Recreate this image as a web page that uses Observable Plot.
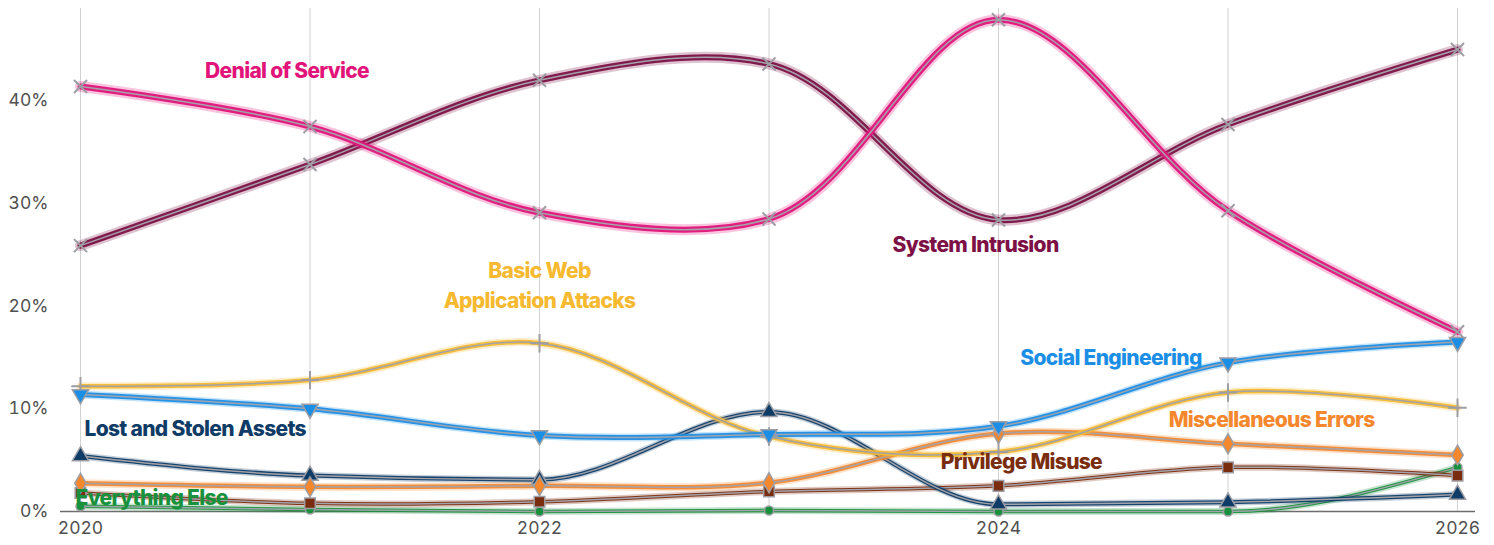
<!DOCTYPE html>
<html>
<head>
<meta charset="utf-8">
<script src="https://cdn.jsdelivr.net/npm/d3@7"></script>
<script src="https://cdn.jsdelivr.net/npm/@observablehq/plot@0.6"></script>
<style>
  html, body { margin: 0; padding: 0; background: #fff; }
  #chart { width: 1494px; height: 545px; }
  .lbl text { letter-spacing: -0.7px; }
</style>
</head>
<body>
<div id="chart"></div>
<script>
const years = [2020, 2021, 2022, 2023, 2024, 2025, 2026];
const xTicks = [2020, 2022, 2024, 2026];
const yTicks = [0, 10, 20, 30, 40];

const systemIntrusion   = [25.9, 33.8, 42.0, 43.6, 28.4, 37.7, 45.0];
const denialOfService   = [41.4, 37.5, 29.1, 28.5, 47.9, 29.3, 17.5];
const basicWebApp       = [12.2, 12.8, 16.4, 7.3, 5.8, 11.6, 10.1];
const socialEngineering = [11.4, 10.0, 7.4, 7.5, 8.3, 14.5, 16.5];
const lostStolen        = [5.4, 3.5, 3.1, 9.7, 0.7, 0.9, 1.65];
const miscErrors        = [2.75, 2.4, 2.5, 2.8, 7.6, 6.6, 5.5];
const privilegeMisuse   = [1.8, 0.8, 0.95, 1.95, 2.5, 4.3, 3.5];
const everythingElse    = [0.5, 0.2, 0.0, 0.1, 0.0, 0.0, 4.3];

const seriesNames = ["System Intrusion", "Denial of Service", "Basic Web Application Attacks",
  "Social Engineering", "Lost and Stolen Assets", "Miscellaneous Errors", "Privilege Misuse", "Everything Else"];
const seriesValues = [systemIntrusion, denialOfService, basicWebApp, socialEngineering,
  lostStolen, miscErrors, privilegeMisuse, everythingElse];

// label annotations (text, year position, value position)
const labelTexts = ["Denial of Service", "System Intrusion", "Basic Web\nApplication Attacks",
  "Social Engineering", "Miscellaneous Errors", "Lost and Stolen Assets", "Privilege Misuse", "Everything Else"];
const labelSeries = ["Denial of Service", "System Intrusion", "Basic Web Application Attacks",
  "Social Engineering", "Miscellaneous Errors", "Lost and Stolen Assets", "Privilege Misuse", "Everything Else"];
const labelYear = [2020.90, 2023.90, 2022.0, 2024.49, 2025.19, 2020.50, 2024.10, 2020.31];
const labelValue = [43.15, 26.25, 22.25, 15.25, 9.2, 8.25, 5.1, 1.6];

const catmull = d3.curveCatmullRom.alpha(1);
const style = {
  "System Intrusion": {color: "#7d1146", symbol: "times", outer: 11, inner: 6, curve: catmull},
  "Denial of Service": {color: "#e2147a", symbol: "times", outer: 11, inner: 6, curve: catmull},
  "Basic Web Application Attacks": {color: "#f6b92f", symbol: "plus", outer: 8, inner: 4.5, curve: catmull},
  "Social Engineering": {color: "#1b8ee6", symbol: "triangle", rotate: 180, outer: 8, inner: 5, curve: catmull},
  "Lost and Stolen Assets": {color: "#0f3c66", symbol: "triangle", outer: 7, inner: 4, curve: "monotone-x"},
  "Miscellaneous Errors": {color: "#f5872c", symbol: "diamond", outer: 8, inner: 4.5, curve: catmull},
  "Privilege Misuse": {color: "#7a2c0e", symbol: "square", outer: 7, inner: 3.5, curve: catmull},
  "Everything Else": {color: "#17913c", symbol: "circle", outer: 7, inner: 3.5, curve: "monotone-x"}
};

const rows = seriesNames.map((s, i) => years.map((yr, j) => ({series: s, year: yr, value: seriesValues[i][j]})));
const labels = labelTexts.map((t, i) => ({text: t, series: labelSeries[i], year: labelYear[i], value: labelValue[i]}));

const marks = [
  Plot.gridX(years, {stroke: "#d2d2d2", strokeOpacity: 1, strokeWidth: 1}),
  Plot.ruleY([0], {stroke: "#6d6d6d", strokeWidth: 1.5}),
  Plot.axisY(yTicks, {tickSize: 0, tickPadding: 12, tickFormat: d => d + "%", fontSize: 17.5, fill: "#505050", label: null}),
  Plot.axisX(xTicks, {tickSize: 0, tickPadding: 10, tickFormat: d => String(d), fontSize: 17.5, fill: "#505050", label: null})
];

const order = [7, 6, 4, 5, 2, 3, 0, 1];
for (const i of order) {
  const s = seriesNames[i];
  const st = style[s];
  const data = rows[i];
  marks.push(Plot.line(data, {x: "year", y: "value", curve: st.curve, stroke: st.color, strokeOpacity: 0.25, strokeWidth: st.outer}));
  marks.push(Plot.line(data, {x: "year", y: "value", curve: st.curve, stroke: st.color, strokeOpacity: 0.95, strokeWidth: st.inner}));
  marks.push(Plot.line(data, {x: "year", y: "value", curve: st.curve, stroke: "#a3a3ab", strokeWidth: 1.5}));
}
for (const i of order) {
  const s = seriesNames[i];
  const st = style[s];
  const data = rows[i];
  if (st.symbol === "times" || st.symbol === "plus") {
    marks.push(Plot.dot(data, {x: "year", y: "value", symbol: st.symbol, r: 6, fill: "none", stroke: "#9d9da3", strokeWidth: 2}));
  } else {
    marks.push(Plot.dot(data, {x: "year", y: "value", symbol: st.symbol, rotate: st.rotate || 0, r: st.symbol === "circle" ? 4.5 : 6, fill: st.color, stroke: "#9d9da3", strokeWidth: 1.5}));
  }
}
marks.push(Plot.text(labels, {x: "year", y: "value", text: "text", fill: d => style[d.series].color,
  fontSize: 21, fontWeight: 800, lineHeight: 1.42, className: "lbl", textAnchor: "middle"}));

const chart = Plot.plot({
  width: 1494,
  height: 545,
  marginLeft: 60,
  marginRight: 19,
  marginTop: 8,
  marginBottom: 34,
  style: {fontFamily: "Inter, 'Noto Sans', sans-serif", background: "#fff", overflow: "visible"},
  x: {domain: [2020, 2026], insetLeft: 20, insetRight: 18},
  y: {domain: [0, 49]},
  color: {type: "identity"},
  marks
});
document.getElementById("chart").appendChild(chart);
</script>
</body>
</html>
